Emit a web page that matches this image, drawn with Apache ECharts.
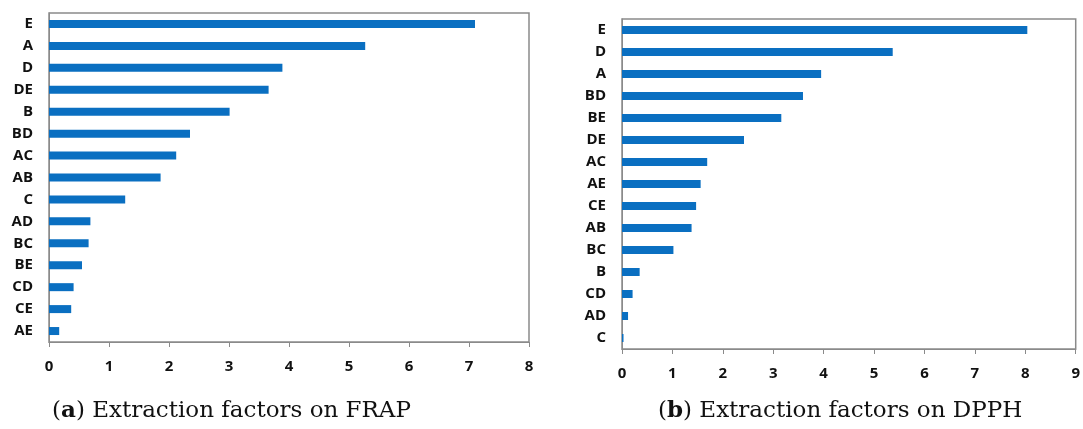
<!DOCTYPE html>
<html>
<head>
<meta charset="utf-8">
<script src="https://cdn.jsdelivr.net/npm/echarts@6/dist/echarts.min.js"></script>
<style>
  html, body { margin: 0; padding: 0; background: #fff; }
  #chart { width: 1083px; height: 429px; }
</style>
</head>
<body>
<div id="chart"></div>
<script>
// (a) FRAP extraction factors, listed top to bottom
const frapFactors = ['E', 'A', 'D', 'DE', 'B', 'BD', 'AC', 'AB', 'C', 'AD', 'BC', 'BE', 'CD', 'CE', 'AE'];
const frapValues  = [7.10, 5.27, 3.89, 3.66, 3.01, 2.35, 2.12, 1.86, 1.27, 0.69, 0.66, 0.55, 0.41, 0.37, 0.17];

// (b) DPPH extraction factors, listed top to bottom
const dpphFactors = ['E', 'D', 'A', 'BD', 'BE', 'DE', 'AC', 'AE', 'CE', 'AB', 'BC', 'B', 'CD', 'AD', 'C'];
const dpphValues  = [8.04, 5.37, 3.95, 3.59, 3.16, 2.42, 1.69, 1.56, 1.47, 1.38, 1.02, 0.35, 0.21, 0.12, 0.03];

// x-axis ranges
const frapMax = 8;
const dpphMax = 9;

const captionA = ['a', ' Extraction factors on FRAP'];
const captionB = ['b', ' Extraction factors on DPPH'];

const barColor = '#0a6fc1';
const axisGray = '#8a8a8a';
const labelFont = { fontFamily: 'Open Sans', fontWeight: 'bold', fontSize: 15, color: '#111' };

function xAxisFor(gridIndex, max) {
  return {
    type: 'value', gridIndex, min: 0, max, interval: 1,
    axisLine: { show: true, lineStyle: { color: axisGray, width: 1 } },
    axisTick: { show: true, inside: false, length: 5, lineStyle: { color: axisGray } },
    splitLine: { show: false },
    axisLabel: Object.assign({ margin: 17 }, labelFont)
  };
}

function yAxisFor(gridIndex, cats) {
  return {
    type: 'category', gridIndex, data: cats, inverse: true,
    axisLine: { show: true, lineStyle: { color: axisGray, width: 1 } },
    axisTick: { show: false },
    splitLine: { show: false },
    axisLabel: Object.assign({ margin: 16 }, labelFont)
  };
}

function caption(x, y, parts) {
  return {
    type: 'text', left: x, top: y,
    style: {
      text: '{p|(}{b|' + parts[0] + '}{p|)' + parts[1] + '}',
      rich: {
        p: { fontFamily: 'DejaVu Serif', fontSize: 23, fill: '#111' },
        b: { fontFamily: 'DejaVu Serif', fontSize: 23, fontWeight: 'bold', fill: '#111' }
      }
    }
  };
}

const chart = echarts.init(document.getElementById('chart'), null, { renderer: 'canvas' });
chart.setOption({
  animation: false,
  backgroundColor: '#fff',
  grid: [
    { left: 49, top: 13, width: 480, height: 329, show: true, borderColor: axisGray, borderWidth: 1.5, backgroundColor: 'transparent' },
    { left: 622, top: 19, width: 457, height: 330, show: true, borderColor: axisGray, borderWidth: 1.5, backgroundColor: 'transparent' }
  ],
  xAxis: [xAxisFor(0, frapMax), xAxisFor(1, dpphMax)],
  yAxis: [yAxisFor(0, frapFactors), yAxisFor(1, dpphFactors)],
  series: [
    { type: 'bar', xAxisIndex: 0, yAxisIndex: 0, data: frapValues, barWidth: 8, itemStyle: { color: barColor } },
    { type: 'bar', xAxisIndex: 1, yAxisIndex: 1, data: dpphValues, barWidth: 8, itemStyle: { color: barColor } }
  ],
  graphic: [
    caption(52, 400, captionA),
    caption(658, 400, captionB)
  ]
});
</script>
</body>
</html>
